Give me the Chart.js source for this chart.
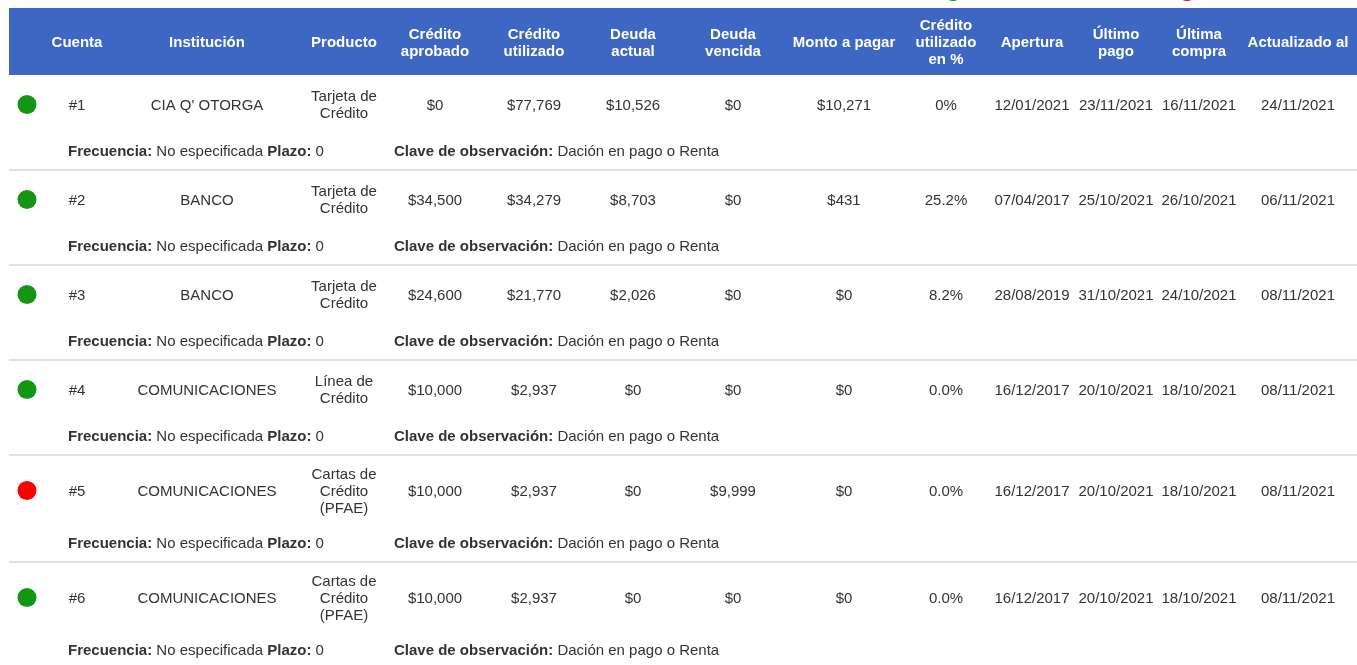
<!DOCTYPE html>
<html lang="es">
<head>
  <meta charset="UTF-8">
  <title>Detalle de cuentas</title>
  <script src="https://cdn.jsdelivr.net/npm/chart.js"></script>
  <style>
    html, body { margin: 0; padding: 0; background: #fff; }
    .wrap { position: relative; width: 1357px; height: 665px; }
  </style>
</head>
<body>
  <div class="wrap">
    <canvas id="cuentasChart"></canvas>
  </div>

  <script>
    // encabezados de columna
    const headers = [
      '', 'Cuenta', 'Institución', 'Producto',
      ['Crédito', 'aprobado'], ['Crédito', 'utilizado'],
      ['Deuda', 'actual'], ['Deuda', 'vencida'], 'Monto a pagar',
      ['Crédito', 'utilizado', 'en %'], 'Apertura',
      ['Último', 'pago'], ['Última', 'compra'], 'Actualizado al'
    ];

    // datos por cuenta
    const cuentas = ['#1', '#2', '#3', '#4', '#5', '#6'];
    const estatus = ['ok', 'ok', 'ok', 'ok', 'vencido', 'ok'];
    const instituciones = ['CIA Q\' OTORGA', 'BANCO', 'BANCO', 'COMUNICACIONES', 'COMUNICACIONES', 'COMUNICACIONES'];
    const productos = [
      ['Tarjeta de', 'Crédito'], ['Tarjeta de', 'Crédito'], ['Tarjeta de', 'Crédito'],
      ['Línea de', 'Crédito'], ['Cartas de', 'Crédito', '(PFAE)'], ['Cartas de', 'Crédito', '(PFAE)']
    ];
    const creditoAprobado = [0, 34500, 24600, 10000, 10000, 10000];
    const creditoUtilizado = [77769, 34279, 21770, 2937, 2937, 2937];
    const deudaActual = [10526, 8703, 2026, 0, 0, 0];
    const deudaVencida = [0, 0, 0, 0, 9999, 0];
    const montoPagar = [10271, 431, 0, 0, 0, 0];
    const pctUtilizado = ['0%', '25.2%', '8.2%', '0.0%', '0.0%', '0.0%'];
    const apertura = ['12/01/2021', '07/04/2017', '28/08/2019', '16/12/2017', '16/12/2017', '16/12/2017'];
    const ultimoPago = ['23/11/2021', '25/10/2021', '31/10/2021', '20/10/2021', '20/10/2021', '20/10/2021'];
    const ultimaCompra = ['16/11/2021', '26/10/2021', '24/10/2021', '18/10/2021', '18/10/2021', '18/10/2021'];
    const actualizado = ['24/11/2021', '06/11/2021', '08/11/2021', '08/11/2021', '08/11/2021', '08/11/2021'];
    const frecuencias = ['No especificada', 'No especificada', 'No especificada', 'No especificada', 'No especificada', 'No especificada'];
    const plazos = [0, 0, 0, 0, 0, 0];
    const claves = ['Dación en pago o Renta', 'Dación en pago o Renta', 'Dación en pago o Renta',
                    'Dación en pago o Renta', 'Dación en pago o Renta', 'Dación en pago o Renta'];

    // leyenda de estatus (recortada arriba)
    const leyendaEstatus = ['ok', 'vencido'];

    // estilos y geometria
    const W = 1357, H = 665;
    const colX = [27, 77, 207, 344, 435, 534, 633, 733, 844, 946, 1032, 1116, 1199, 1298];
    const legendX = [953, 1187];
    const colores = { ok: '#149614', vencido: '#ff0000' };
    const azul = '#3e67c4';
    const texto = '#333333';
    const FONT = '"Liberation Sans", Arial, sans-serif';
    const LINE = 17;
    const TXT_DY = 1.5; // ajuste de la linea base del texto
    const headTop = 8, headBottom = 75;

    const money = v => '$' + v.toLocaleString('en-US');

    // posicion vertical de cada fila
    const filas = [];
    let yFila = 76;
    cuentas.forEach((c, i) => {
      const mainH = productos[i].length > 2 ? 68 : 56;
      const sep = yFila + mainH + 38;
      filas.push({ center: yFila + mainH / 2, detalle: yFila + mainH + 18, sep: sep });
      yFila = sep + 1;
    });

    function celdas(i) {
      return [
        null, cuentas[i], instituciones[i], productos[i],
        money(creditoAprobado[i]), money(creditoUtilizado[i]),
        money(deudaActual[i]), money(deudaVencida[i]), money(montoPagar[i]),
        pctUtilizado[i], apertura[i], ultimoPago[i], ultimaCompra[i], actualizado[i]
      ];
    }

    function lineas(ctx, txt, x, y) {
      const arr = Array.isArray(txt) ? txt : [txt];
      const y0 = y + TXT_DY - (arr.length - 1) * LINE / 2;
      arr.forEach((t, k) => ctx.fillText(t, x, y0 + k * LINE));
    }

    function mixto(ctx, partes, x, y) {
      ctx.textAlign = 'left';
      partes.forEach(([t, bold]) => {
        ctx.font = (bold ? 'bold ' : '') + '15px ' + FONT;
        ctx.fillText(t, x, y + TXT_DY);
        x += ctx.measureText(t).width;
      });
    }

    const tablaPlugin = {
      id: 'tabla',
      beforeDatasetsDraw(chart) {
        const ctx = chart.ctx;
        const sx = chart.scales.x, sy = chart.scales.y;
        ctx.save();
        ctx.textBaseline = 'middle';

        // banda de encabezado
        ctx.fillStyle = azul;
        const yA = sy.getPixelForValue(headTop), yB = sy.getPixelForValue(headBottom);
        ctx.fillRect(sx.getPixelForValue(9), yA, sx.getPixelForValue(W) - sx.getPixelForValue(9), yB - yA);
        ctx.fillStyle = '#ffffff';
        ctx.font = 'bold 15px ' + FONT;
        ctx.textAlign = 'center';
        headers.forEach((h, j) => {
          lineas(ctx, h, sx.getPixelForValue(colX[j]), sy.getPixelForValue((headTop + headBottom) / 2));
        });

        // filas
        filas.forEach((f, i) => {
          ctx.fillStyle = texto;
          ctx.font = '15px ' + FONT;
          ctx.textAlign = 'center';
          celdas(i).forEach((c, j) => {
            if (c === null) return;
            lineas(ctx, c, sx.getPixelForValue(colX[j]), sy.getPixelForValue(f.center));
          });
          const yd = sy.getPixelForValue(f.detalle);
          mixto(ctx, [['Frecuencia:', true], [' ' + frecuencias[i] + ' ', false], ['Plazo:', true], [' ' + plazos[i], false]],
                sx.getPixelForValue(68), yd);
          mixto(ctx, [['Clave de observación:', true], [' ' + claves[i], false]],
                sx.getPixelForValue(394), yd);
          if (i < filas.length - 1) {
            ctx.fillStyle = '#dee2e6';
            const ys = sy.getPixelForValue(f.sep);
            ctx.fillRect(sx.getPixelForValue(9), ys - 1, sx.getPixelForValue(W) - sx.getPixelForValue(9), 2);
          }
        });
        ctx.restore();
      }
    };

    const ctx = document.getElementById('cuentasChart').getContext('2d');
    new Chart(ctx, {
      type: 'scatter',
      data: {
        datasets: [
          {
            label: 'Estatus',
            data: filas.map(f => ({ x: colX[0], y: f.center + 0.5 })),
            pointBackgroundColor: estatus.map(s => colores[s]),
            pointBorderWidth: 0,
            pointRadius: 9.5,
            pointHoverRadius: 9.5,
            clip: false
          },
          {
            label: 'Leyenda',
            data: leyendaEstatus.map((s, k) => ({ x: legendX[k], y: -9 })),
            pointBackgroundColor: leyendaEstatus.map(s => colores[s]),
            pointBorderWidth: 0,
            pointRadius: 10,
            clip: false
          }
        ]
      },
      options: {
        responsive: true,
        maintainAspectRatio: false,
        animation: false,
        layout: { padding: 0, autoPadding: false },
        scales: {
          x: { type: 'linear', min: 0, max: W, display: false },
          y: { type: 'linear', min: 0, max: H, reverse: true, display: false }
        },
        plugins: {
          legend: { display: false },
          tooltip: { enabled: false }
        }
      },
      plugins: [tablaPlugin]
    });
  </script>
</body>
</html>
